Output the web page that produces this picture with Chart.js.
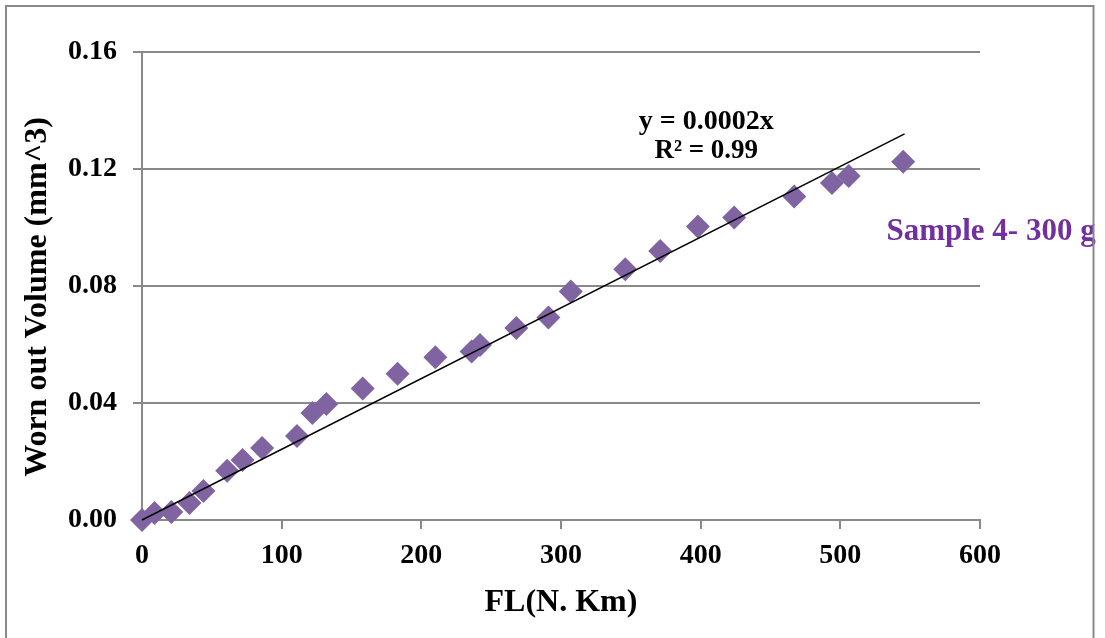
<!DOCTYPE html>
<html>
<head>
<meta charset="utf-8">
<script src="https://cdn.jsdelivr.net/npm/chart.js@4"></script>
<style>
  html, body { margin: 0; padding: 0; background: #fff; }
  #wrap { width: 1105px; height: 638px; }
</style>
</head>
<body>
<div id="wrap"><canvas id="chart" width="1105" height="638"></canvas></div>
<script>
// measured points, FL (N.Km) vs worn volume (mm^3)
var flValues = [0, 9, 21, 34, 44, 61, 72, 86, 111, 122, 132, 158, 183, 210, 236, 242, 268, 291, 307, 346, 371, 398, 424, 467, 494, 506, 545];
var volumeValues = [0, 0.0024, 0.0027, 0.0058, 0.0099, 0.0168, 0.0205, 0.0246, 0.0287, 0.0366, 0.0397, 0.045, 0.050, 0.0556, 0.0576, 0.0598, 0.0656, 0.0692, 0.0781, 0.0857, 0.092, 0.1003, 0.1034, 0.1106, 0.1152, 0.1176, 0.1225];
// trendline end points (as drawn in the picture)
var trendX = [0, 546];
var trendY = [0, 0.1320];
var xTicks = [0, 100, 200, 300, 400, 500, 600];
var yTicks = [0, 0.04, 0.08, 0.12, 0.16];

var gridGrey = '#898989';
var serif = 'Liberation Serif, Times New Roman, serif';

var scatterPts = flValues.map(function (x, i) { return { x: x, y: volumeValues[i] }; });
var trendPts = trendX.map(function (x, i) { return { x: x, y: trendY[i] }; });

var textPlugin = {
	id: 'chartText',
	afterDraw: function (chart) {
		var ctx = chart.ctx;
		var xs = chart.scales.x, ys = chart.scales.y;
		ctx.save();
		ctx.fillStyle = '#000';
		ctx.font = 'bold 28px ' + serif;
		ctx.textAlign = 'center';
		ctx.textBaseline = 'middle';
		ctx.fillText('y = 0.0002x', xs.getPixelForValue(404), ys.getPixelForValue(0.1362));
		ctx.font = 'bold 27px ' + serif;
		ctx.fillText('R² = 0.99', xs.getPixelForValue(404), ys.getPixelForValue(0.1261));

		// y axis title
		ctx.save();
		ctx.translate(38, 297);
		ctx.rotate(-Math.PI / 2);
		ctx.font = 'bold 32px ' + serif;
		ctx.fillText('Worn out Volume (mm^3)', 0, 0);
		ctx.restore();

		ctx.fillStyle = '#7030A0';
		ctx.font = 'bold 31px ' + serif;
		ctx.textAlign = 'left';
		ctx.fillText('Sample 4- 300 g', xs.getPixelForValue(533), ys.getPixelForValue(0.0985));

		// outer frame
		ctx.strokeStyle = gridGrey;
		ctx.lineWidth = 2;
		ctx.beginPath();
		ctx.moveTo(6, 640);
		ctx.lineTo(6, 6);
		ctx.lineTo(1093.5, 6);
		ctx.lineTo(1093.5, 640);
		ctx.stroke();
		ctx.restore();
	}
};

new Chart(document.getElementById('chart'), {
	type: 'scatter',
	data: {
		datasets: [
			{
				label: 'Linear',
				type: 'line',
				data: trendPts,
				borderColor: '#000',
				borderWidth: 1.5,
				pointRadius: 0,
				fill: false,
				clip: false,
				order: 0
			},
			{
				label: 'Sample 4- 300 g',
				data: scatterPts,
				pointStyle: 'rectRot',
				pointRadius: 12,
				pointBackgroundColor: '#8064A2',
				pointBorderWidth: 0,
				backgroundColor: '#8064A2',
				borderColor: '#8064A2',
				clip: false,
				order: 1
			}
		]
	},
	options: {
		responsive: false,
		animation: false,
		layout: { padding: { top: 52, right: 125, left: 0, bottom: 0 } },
		plugins: {
			legend: { display: false },
			tooltip: { enabled: false }
		},
		scales: {
			x: {
				type: 'linear',
				min: 0,
				max: 600,
				afterBuildTicks: function (scale) { scale.ticks = xTicks.map(function (v) { return { value: v }; }); },
				afterFit: function (scale) { scale.height = 118; },
				ticks: {
					color: '#000',
					font: { family: serif, size: 28, weight: 'bold' },
					padding: 10,
					maxRotation: 0
				},
				grid: { drawOnChartArea: false, drawTicks: true, tickLength: 9, color: gridGrey, lineWidth: 2 },
				border: { color: gridGrey, width: 2 },
				title: {
					display: true,
					text: 'FL(N. Km)',
					color: '#000',
					font: { family: serif, size: 32, weight: 'bold' },
					padding: { top: 0, bottom: 16 }
				}
			},
			y: {
				type: 'linear',
				min: 0,
				max: 0.16,
				afterBuildTicks: function (scale) { scale.ticks = yTicks.map(function (v) { return { value: v }; }); },
				afterFit: function (scale) { scale.width = 142; },
				ticks: {
					color: '#000',
					font: { family: serif, size: 28, weight: 'bold' },
					padding: 16,
					callback: function (v) { return Number(v).toFixed(2); }
				},
				grid: { color: gridGrey, lineWidth: 2, tickLength: 9 },
				border: { color: gridGrey, width: 2 }
			}
		}
	},
	plugins: [textPlugin]
});
</script>
</body>
</html>
